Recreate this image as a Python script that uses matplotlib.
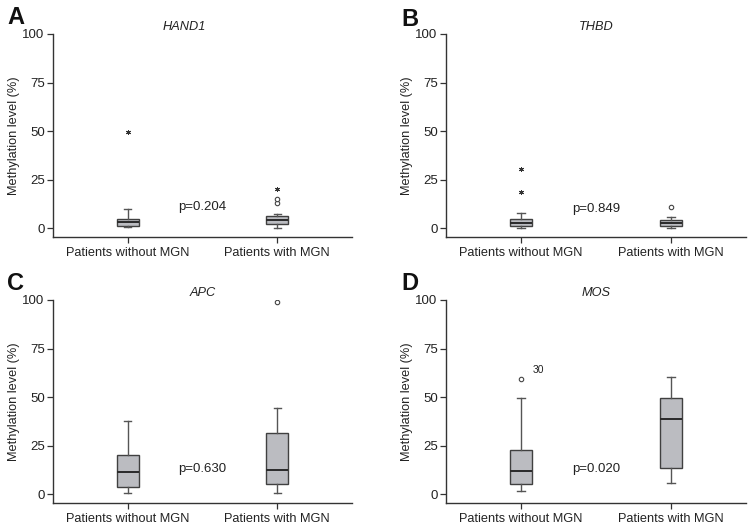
import matplotlib
matplotlib.use("Agg")
import matplotlib.pyplot as plt

plt.rcParams['font.family'] = ['Liberation Sans', 'DejaVu Sans']

groups = ["Patients without MGN", "Patients with MGN"]
genes = ["HAND1", "THBD", "APC", "MOS"]
letters = ["A", "B", "C", "D"]
p_values = ["p=0.204", "p=0.849", "p=0.630", "p=0.020"]
p_y = [11, 10, 12.9, 12.9]

# box stats: [whislo, q1, med, q3, whishi]
hand1_without = [0.4, 1.2, 3.3, 5.0, 9.9]
hand1_with = [0.2, 2.2, 4.3, 6.5, 7.4]
thbd_without = [0.3, 1.2, 2.9, 4.6, 8.0]
thbd_with = [0.0, 1.0, 2.5, 4.0, 5.7]
apc_without = [0.9, 3.6, 11.3, 20.3, 37.8]
apc_with = [0.5, 5.5, 12.7, 31.4, 44.3]
mos_without = [1.9, 5.5, 12.0, 23.0, 49.3]
mos_with = [6.0, 13.6, 38.8, 49.3, 60.5]

# outliers: circles and extremes (stars)
hand1_circles = [[], [12.8, 14.9]]
hand1_stars = [[49.4], [20.2]]
thbd_circles = [[], [10.7]]
thbd_stars = [[30.7, 18.7], []]
apc_circles = [[], [99.1]]
apc_stars = [[], []]
mos_circles = [[59.1], []]
mos_stars = [[], []]

stats_all = [(hand1_without, hand1_with), (thbd_without, thbd_with),
             (apc_without, apc_with), (mos_without, mos_with)]
circles_all = [hand1_circles, thbd_circles, apc_circles, mos_circles]
stars_all = [hand1_stars, thbd_stars, apc_stars, mos_stars]

W, H = 753, 528
fig = plt.figure(figsize=(W / 100, H / 100), dpi=100)

axes_px = [(53, 34, 352, 237), (446, 34, 746, 237),
           (53, 300, 352, 503), (446, 300, 746, 503)]
letter_px = [(7, 6), (401, 8), (7, 272), (401, 272)]
title_x = [0.44, 0.5, 0.5, 0.5]

text_col = "#222222"
edge_col = "#404040"

for i in range(4):
    l, t, r, b = axes_px[i]
    ax = fig.add_axes([l / W, 1 - b / H, (r - l) / W, (b - t) / H])
    bxp_stats = []
    for j, s in enumerate(stats_all[i]):
        bxp_stats.append(dict(whislo=s[0], q1=s[1], med=s[2], q3=s[3],
                              whishi=s[4], fliers=[], label=groups[j]))
    ax.bxp(bxp_stats, positions=[1, 2], widths=0.15, capwidths=0.05,
           patch_artist=True, showfliers=False,
           boxprops=dict(facecolor="#bbbcc1", edgecolor=edge_col, linewidth=1.0),
           medianprops=dict(color="#2a2a2a", linewidth=1.4),
           whiskerprops=dict(color="#555555", linewidth=1.0),
           capprops=dict(color="#555555", linewidth=1.0))
    for j in range(2):
        c = circles_all[i][j]
        if c:
            ax.plot([j + 1] * len(c), c, linestyle="none", marker="o",
                    markersize=3.2, markerfacecolor="white",
                    markeredgecolor="#444444", markeredgewidth=0.8)
        st = stars_all[i][j]
        if st:
            ax.plot([j + 1] * len(st), st, linestyle="none", marker=(6, 2, 0),
                    markersize=3.6, color="#333333", markeredgewidth=0.7)
    if i == 3:
        ax.text(1.08, 61.5, "30", fontsize=7.5, color=text_col, ha="left", va="bottom")

    ax.set_xlim(0.5, 2.5)
    ax.set_ylim(-4.5, 100)
    ax.set_yticks([0, 25, 50, 75, 100])
    ax.set_xticks([1, 2])
    ax.set_xticklabels(groups, fontsize=9.2, color=text_col)
    ax.tick_params(axis="y", labelsize=9.5, labelcolor=text_col, length=4,
                   width=0.9, color="#333333", pad=2)
    ax.tick_params(axis="x", length=4, width=0.9, color="#333333", pad=3)
    for side in ["top", "right"]:
        ax.spines[side].set_visible(False)
    for side in ["left", "bottom"]:
        ax.spines[side].set_color("#333333")
        ax.spines[side].set_linewidth(1.0)
    ax.spines["left"].set_bounds(-4.5, 100)
    ax.set_ylabel("Methylation level (%)", fontsize=9.2, color=text_col, labelpad=1.5)
    ax.set_title(genes[i], fontsize=9.2, style="italic", color=text_col,
                 x=title_x[i], pad=3)
    ax.text(1.5, p_y[i], p_values[i], fontsize=9.5, color=text_col,
            ha="center", va="center")
    lx, ly = letter_px[i]
    fig.text(lx / W, 1 - ly / H, letters[i], fontsize=17, fontweight="bold",
             color="#111111", ha="left", va="top")

fig.savefig("out.png", dpi=100)
